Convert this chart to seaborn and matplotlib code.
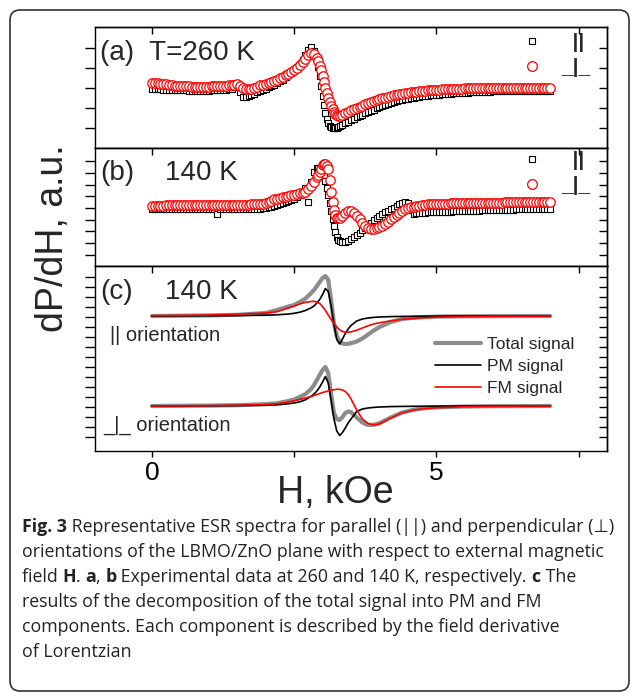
import numpy as np
import matplotlib.pyplot as plt
import seaborn as sns
from matplotlib.lines import Line2D
from matplotlib.patches import FancyBboxPatch
from matplotlib.transforms import IdentityTransform

# ── Data (arbitrary units) ───────────────────────────────────────────────────
# field values of the measured spectra, kOe
H_EXP = [0.0, 0.05, 0.1, 0.15, 0.2, 0.25, 0.3, 0.35, 0.4, 0.45, 0.5, 0.55, 0.6, 0.65, 0.7,
         0.75, 0.8, 0.85, 0.9, 0.95, 1.0, 1.05, 1.1, 1.15, 1.2, 1.25, 1.3, 1.35, 1.4, 1.45,
         1.5, 1.55, 1.6, 1.65, 1.7, 1.75, 1.8, 1.85, 1.9, 1.95, 2.0, 2.05, 2.1, 2.15, 2.2,
         2.25, 2.3, 2.35, 2.4, 2.45, 2.5, 2.55, 2.6, 2.65, 2.7, 2.75, 2.8, 2.85,
         2.9, 2.925, 2.95, 2.975, 3.0, 3.025, 3.05, 3.075, 3.1, 3.125, 3.15, 3.175,
         3.2, 3.225, 3.25, 3.275, 3.3,
         3.35, 3.4, 3.45, 3.5, 3.55, 3.6, 3.65, 3.7, 3.75, 3.8, 3.85, 3.9, 3.95, 4.0,
         4.05, 4.1, 4.15, 4.2, 4.25, 4.3, 4.35, 4.4, 4.45, 4.5, 4.55, 4.6, 4.65, 4.7,
         4.75, 4.8, 4.85, 4.9, 4.95, 5.0, 5.05, 5.1, 5.15, 5.2, 5.25, 5.3, 5.35, 5.4,
         5.45, 5.5, 5.55, 5.6, 5.65, 5.7, 5.75, 5.8, 5.85, 5.9, 5.95, 6.0, 6.05, 6.1,
         6.15, 6.2, 6.25, 6.3, 6.35, 6.4, 6.45, 6.5, 6.55, 6.6, 6.65, 6.7, 6.75, 6.8,
         6.85, 6.9, 6.95, 7.0]

# (a) T = 260 K, parallel (squares) and perpendicular (circles)
A_PAR = [-0.05, -0.08, -0.10, -0.13, -0.15, -0.17, -0.18, -0.19, -0.20, -0.21, -0.22, -0.23, -0.24, -0.25, -0.25,
         -0.26, -0.26, -0.26, -0.26, -0.26, -0.25, -0.24, -0.23, -0.22, -0.20, -0.18, -0.15, -0.12, -0.10, 0.10,
         0.30, -0.40, -0.90, -0.85, -0.75, -0.65, -0.55, -0.42, -0.30, -0.18, -0.05, 0.08, 0.20, 0.35, 0.50,
         0.67, 0.85, 1.05, 1.25, 1.50, 1.75, 2.05, 2.40, 2.80, 3.30, 3.80, 4.10, 3.70,
         2.80, 2.10, 1.20, 0.20, -0.80, -1.70, -2.50, -3.10, -3.50, -3.75, -3.90, -3.97,
         -4.00, -3.98, -3.95, -3.88, -3.80,
         -3.65, -3.50, -3.35, -3.20, -3.05, -2.90, -2.78, -2.65, -2.52, -2.40, -2.27, -2.15, -2.02, -1.90,
         -1.77, -1.65, -1.55, -1.45, -1.37, -1.30, -1.22, -1.15, -1.10, -1.05, -1.00, -0.95, -0.91, -0.87,
         -0.83, -0.80, -0.77, -0.74, -0.71, -0.68, -0.65, -0.63, -0.60, -0.58, -0.56, -0.54, -0.52, -0.50,
         -0.48, -0.47, -0.45, -0.44, -0.42, -0.41, -0.39, -0.38, -0.37, -0.36, -0.35, -0.34, -0.33, -0.32,
         -0.31, -0.31, -0.30, -0.30, -0.29, -0.29, -0.28, -0.28, -0.28, -0.28, -0.27, -0.27, -0.27, -0.27,
         -0.27, -0.27, -0.27, -0.27]
A_PERP = [0.55, 0.52, 0.48, 0.44, 0.40, 0.36, 0.32, 0.28, 0.25, 0.22, 0.20, 0.18, 0.17, 0.16, 0.15,
          0.14, 0.14, 0.14, 0.14, 0.14, 0.15, 0.16, 0.17, 0.18, 0.20, 0.22, 0.25, 0.27, 0.30, 0.34,
          0.37, 0.20, 0.00, -0.05, -0.10, -0.06, 0.00, 0.12, 0.30, 0.35, 0.40, 0.50, 0.60, 0.72, 0.85,
          0.97, 1.10, 1.25, 1.40, 1.55, 1.75, 2.00, 2.25, 2.55, 2.90, 3.30, 3.50, 3.40,
          3.00, 2.65, 2.20, 1.75, 1.20, 0.60, 0.00, -0.50, -1.00, -1.40, -1.80, -2.10,
          -2.40, -2.55, -2.70, -2.75, -2.75,
          -2.65, -2.50, -2.35, -2.20, -2.05, -1.95, -1.85, -1.75, -1.62, -1.50, -1.40, -1.30, -1.20, -1.10,
          -1.02, -0.95, -0.87, -0.80, -0.73, -0.67, -0.61, -0.56, -0.51, -0.47, -0.43, -0.40, -0.36, -0.33,
          -0.30, -0.27, -0.24, -0.22, -0.20, -0.18, -0.16, -0.14, -0.12, -0.11, -0.09, -0.08, -0.07, -0.06,
          -0.05, -0.04, -0.03, -0.02, -0.02, -0.01, -0.01, 0.00, 0.00, 0.01, 0.01, 0.02, 0.02, 0.03,
          0.03, 0.04, 0.04, 0.04, 0.05, 0.05, 0.05, 0.05, 0.05, 0.05, 0.04, 0.04, 0.04, 0.04,
          0.03, 0.03, 0.03, 0.03]

# (b) T = 140 K
B_PAR = [-0.05, -0.07, -0.08, -0.09, -0.09, -0.10, -0.10, -0.10, -0.10, -0.11, -0.11, -0.11, -0.11, -0.12, -0.12,
         -0.12, -0.12, -0.12, -0.12, -0.12, -0.12, -0.12, -0.12, -0.55, -0.12, -0.11, -0.11, -0.10, -0.10, -0.10,
         -0.10, -0.09, -0.09, -0.08, -0.08, -0.07, -0.07, -0.06, -0.05, -0.03, 0.00, 0.07, 0.15, 0.25, 0.35,
         0.45, 0.55, 0.65, 0.75, 0.85, 0.95, 1.10, 1.30, 1.60, 2.00, 0.60, 2.60, 3.60,
         4.00, 4.00, 3.90, 3.80, 3.60, 3.20, 2.70, 2.00, 1.30, 0.50, -0.30, -1.10,
         -1.80, -2.40, -2.90, -3.15, -3.30,
         -3.40, -3.40, -3.30, -3.10, -2.90, -2.70, -2.45, -2.20, -1.95, -1.70, -1.45, -1.20, -0.97, -0.75,
         -0.57, -0.40, -0.25, -0.10, 0.05, 0.20, 0.38, 0.55, 0.62, 0.50, -0.20, -0.55, -0.52, -0.50,
         -0.47, -0.45, -0.43, -0.42, -0.41, -0.40, -0.39, -0.38, -0.37, -0.36, -0.35, -0.34, -0.33, -0.32,
         -0.31, -0.30, -0.29, -0.28, -0.27, -0.26, -0.25, -0.24, -0.23, -0.22, -0.21, -0.20, -0.19, -0.18,
         -0.18, -0.17, -0.16, -0.15, -0.15, -0.14, -0.13, -0.12, -0.12, -0.11, -0.10, -0.09, -0.09, -0.08,
         -0.07, -0.06, -0.06, -0.05]
B_PERP = [0.25, 0.25, 0.25, 0.25, 0.25, 0.26, 0.26, 0.26, 0.26, 0.27, 0.27, 0.27, 0.27, 0.28, 0.28,
          0.28, 0.28, 0.29, 0.29, 0.29, 0.29, 0.30, 0.30, 0.30, 0.30, 0.31, 0.31, 0.32, 0.32, 0.33,
          0.33, 0.34, 0.34, 0.35, 0.35, 0.36, 0.37, 0.38, 0.40, 0.44, 0.50, 0.62, 0.75, 0.86, 0.95,
          1.03, 1.10, 1.15, 1.20, 1.27, 1.33, 1.40, 1.48, 1.55, 1.65, 1.90, 2.20, 2.60,
          3.10, 3.35, 3.60, 3.95, 4.30, 4.45, 4.40, 4.20, 3.90, 2.80, 1.60, 0.60,
          -0.20, -0.70, -1.00, -1.02, -0.95,
          -0.75, -0.45, -0.25, -0.30, -0.50, -0.80, -1.12, -1.45, -1.75, -2.00, -2.05, -2.05, -2.00, -1.90,
          -1.77, -1.60, -1.37, -1.10, -0.87, -0.65, -0.45, -0.25, -0.12, 0.00, 0.08, 0.15, 0.20, 0.25,
          0.29, 0.33, 0.36, 0.38, 0.40, 0.42, 0.43, 0.44, 0.45, 0.45, 0.46, 0.47, 0.47, 0.48,
          0.48, 0.49, 0.49, 0.50, 0.50, 0.51, 0.51, 0.52, 0.52, 0.53, 0.53, 0.54, 0.54, 0.55,
          0.55, 0.56, 0.56, 0.56, 0.57, 0.57, 0.57, 0.57, 0.58, 0.58, 0.58, 0.59, 0.59, 0.60,
          0.60, 0.61, 0.61, 0.62]

# (c) Lorentzian-derivative decomposition at 140 K
H_FIT = [0.0, 0.5, 1.0, 1.5, 2.0, 2.2, 2.4, 2.5, 2.6, 2.7, 2.8, 2.85, 2.9, 2.95, 3.0,
         3.05, 3.1, 3.15, 3.2, 3.25, 3.3, 3.35, 3.4, 3.45, 3.5, 3.6, 3.7, 3.8, 3.9, 4.0,
         4.2, 4.4, 4.6, 4.8, 5.0, 5.5, 6.0, 6.5, 7.0]
PAR_TOTAL = [0.0, 0.03, 0.06, 0.12, 0.30, 0.60, 0.95, 1.10, 1.40, 1.75, 2.30, 2.60, 3.00, 3.40, 3.80,
             4.00, 3.60, 1.60, -0.70, -2.00, -2.55, -2.75, -2.80, -2.78, -2.72, -2.55, -2.25, -1.85, -1.45, -1.10,
             -0.60, -0.30, -0.17, -0.10, -0.06, -0.03, -0.02, -0.01, 0.0]
PAR_PM = [0.0, 0.01, 0.02, 0.04, 0.08, 0.12, 0.20, 0.27, 0.38, 0.55, 0.82, 1.00, 1.30, 1.65, 2.15,
          2.75, 2.45, 1.00, -0.80, -2.35, -2.80, -2.30, -1.75, -1.30, -0.95, -0.50, -0.30, -0.20, -0.14, -0.10,
          -0.06, -0.04, -0.03, -0.02, -0.01, 0.0, 0.0, 0.0, 0.0]
PAR_FM = [0.03, 0.06, 0.10, 0.17, 0.30, 0.43, 0.80, 1.00, 1.20, 1.37, 1.45, 1.47, 1.40, 1.25, 0.95,
          0.55, 0.10, -0.35, -0.75, -1.10, -1.38, -1.55, -1.62, -1.63, -1.58, -1.42, -1.20, -0.98, -0.80, -0.67,
          -0.48, -0.33, -0.24, -0.17, -0.12, -0.06, -0.03, -0.01, 0.0]
PERP_TOTAL = [0.0, 0.02, 0.04, 0.08, 0.18, 0.27, 0.50, 0.65, 0.90, 1.20, 1.70, 2.10, 2.60, 3.10, 3.60,
              3.90, 3.30, 1.20, -0.70, -1.30, -1.40, -1.10, -0.70, -0.55, -0.62, -1.15, -1.65, -1.90, -1.88, -1.72,
              -1.15, -0.65, -0.38, -0.22, -0.14, -0.05, -0.02, -0.01, 0.0]
PERP_PM = [0.0, 0.01, 0.02, 0.04, 0.08, 0.12, 0.22, 0.30, 0.42, 0.62, 0.98, 1.20, 1.50, 1.90, 2.40,
           2.95, 2.30, 0.60, -1.30, -2.50, -2.95, -2.65, -2.20, -1.70, -1.30, -0.55, -0.30, -0.20, -0.14, -0.10,
           -0.06, -0.04, -0.03, -0.02, -0.01, 0.0, 0.0, 0.0, 0.0]
PERP_FM = [0.0, 0.02, 0.04, 0.08, 0.15, 0.22, 0.40, 0.52, 0.65, 0.80, 0.95, 1.05, 1.15, 1.25, 1.35,
           1.43, 1.50, 1.57, 1.63, 1.67, 1.67, 1.60, 1.45, 1.15, 0.70, -0.40, -1.30, -1.75, -1.90, -1.80,
           -1.20, -0.68, -0.40, -0.25, -0.17, -0.07, -0.03, -0.01, 0.0]
PAR_OFFSET = 9.0  # vertical shift of the parallel-orientation curves in (c)

CAPTION = [
    [("Fig. 3", True), (" Representative ESR spectra for parallel (||) and perpendicular (\u22a5)", False)],
    [("orientations of the LBMO/ZnO plane with respect to external magnetic", False)],
    [("field ", False), ("H", True), (". ", False), ("a", True), (", ", False), ("b", True),
     (" Experimental data at 260 and 140 K, respectively. ", False), ("c", True), (" The", False)],
    [("results of the decomposition of the total signal into PM and FM", False)],
    [("components. Each component is described by the field derivative", False)],
    [("of Lorentzian", False)],
]

# ── Style ────────────────────────────────────────────────────────────────────
sns.set_theme(style="white")
plt.rcParams["font.family"] = ["Liberation Sans", "DejaVu Sans"]
plt.rcParams.update({"axes.edgecolor": "black", "xtick.color": "black", "ytick.color": "black",
                     "axes.linewidth": 1.0})

W, H = 630, 693
fig = plt.figure(figsize=(W / 100, H / 100), dpi=100)


def px_axes(left, top, right, bottom):
    return fig.add_axes([left / W, 1 - bottom / H, (right - left) / W, (bottom - top) / H])


def style_panel(ax, ylim, yticks, bottom_labels=False):
    ax.set_xlim(-1, 8)
    ax.set_ylim(*ylim)
    ax.set_xlabel("")
    ax.set_ylabel("")
    ax.set_xticks([0, 2.5, 5, 7.5])
    ax.set_yticks(yticks)
    ax.tick_params(axis="y", direction="out", length=7, width=1, left=True, right=False, labelleft=False)
    sec_y = ax.secondary_yaxis("right")
    sec_y.set_yticks(yticks)
    sec_y.tick_params(direction="in", length=6, width=1, labelright=False)
    if bottom_labels:
        ax.tick_params(axis="x", direction="out", length=4, width=1, bottom=True, top=False,
                       labelbottom=True, labelsize=19, pad=3)
        ax.set_xticklabels(["0", "", "5", ""])
    else:
        ax.tick_params(axis="x", bottom=False, top=False, labelbottom=False)
    sec_x = ax.secondary_xaxis("top")
    sec_x.set_xticks([0, 2.5, 5, 7.5])
    sec_x.tick_params(direction="in", length=5, width=1, labeltop=False)


def exp_panel(ax, par, perp, leg_y):
    sns.scatterplot(x=H_EXP, y=par, ax=ax, marker="s", s=24, facecolor="white",
                    edgecolor="black", linewidth=0.8, zorder=2)
    sns.scatterplot(x=H_EXP, y=perp, ax=ax, marker="o", s=46, facecolor="white",
                    edgecolor="red", linewidth=0.9, zorder=3)
    handles = [Line2D([], [], ls="none", marker="s", ms=5, mfc="white", mec="black", mew=0.8),
               Line2D([], [], ls="none", marker="o", ms=7, mfc="white", mec="red", mew=0.9)]
    ax.legend(handles, ["  ||", "_|_"], loc="upper left", bbox_to_anchor=(0.833, leg_y),
              frameon=False, prop={"size": 15, "weight": "bold"}, handlelength=1.0,
              handletextpad=0.9, labelspacing=0.3, borderpad=0, borderaxespad=0)


ax_a = px_axes(95, 27, 607, 148)
ax_b = px_axes(95, 148, 607, 266)
ax_c = px_axes(95, 266, 607, 451)

# (a)
exp_panel(ax_a, A_PAR, A_PERP, 0.95)
style_panel(ax_a, (-6.0, 6.1), [-4, -2, 0, 2, 4])
ax_a.text(0.01, 0.785, "(a)  T=260 K", transform=ax_a.transAxes, fontsize=20, va="center")

# (b)
exp_panel(ax_b, B_PAR, B_PERP, 0.975)
style_panel(ax_b, (-5.8, 6.0), [k * 1.17 for k in range(-4, 5)])
ax_b.text(0.01, 0.788, "(b)", transform=ax_b.transAxes, fontsize=20, va="center")
ax_b.text(0.137, 0.788, "140 K", transform=ax_b.transAxes, fontsize=20, va="center")

# (c)
colors = ["#8c8c8c", "black", "red"]
widths = [3.0, 1.2, 1.2]
for ys, col, lw in zip([PAR_TOTAL, PAR_PM, PAR_FM], colors, widths):
    sns.lineplot(x=H_FIT, y=[v + PAR_OFFSET for v in ys], ax=ax_c, color=col, lw=lw,
                 sort=False, estimator=None)
for ys, col, lw in zip([PERP_TOTAL, PERP_PM, PERP_FM], colors, widths):
    sns.lineplot(x=H_FIT, y=ys, ax=ax_c, color=col, lw=lw, sort=False, estimator=None)
style_panel(ax_c, (-4.5, 14.0), list(np.arange(-3.1, 13.2, 1.0)), bottom_labels=True)
ax_c.text(0.01, 0.859, "(c)", transform=ax_c.transAxes, fontsize=20, va="center")
ax_c.text(0.137, 0.859, "140 K", transform=ax_c.transAxes, fontsize=20, va="center")
ax_c.text(0.029, 0.622, "|| orientation", transform=ax_c.transAxes, fontsize=14.5, va="center")
ax_c.text(0.016, 0.14, "_|_ orientation", transform=ax_c.transAxes, fontsize=14.5, va="center")
leg_handles = [Line2D([], [], color=c, lw=w) for c, w in zip(colors, widths)]
ax_c.legend(leg_handles, ["Total signal", "PM signal", "FM signal"], loc="upper left",
            bbox_to_anchor=(0.665, 0.617), frameon=False, fontsize=12.5, handlelength=2.6,
            handletextpad=0.35, labelspacing=0.4, borderpad=0, borderaxespad=0)

ax_c.set_xlabel("H, kOe", fontsize=27)
ax_c.xaxis.set_label_coords(0.469, -0.13)
fig.text(53 / W, 1 - 238 / H, "dP/dH, a.u.", rotation=90, fontsize=27, ha="center", va="center")

# ── Caption ──────────────────────────────────────────────────────────────────
renderer = fig.canvas.get_renderer()
cap_font = ["Open Sans", "DejaVu Sans"]
for i, line in enumerate(CAPTION):
    x = 22
    y = 527 + i * 25
    for txt, bold in line:
        t = fig.text(x / W, 1 - y / H, txt, fontsize=12.8, family=cap_font, color="#222222",
                     fontweight="bold" if bold else "normal", ha="left", va="center")
        x += t.get_window_extent(renderer).width

# rounded frame round the whole figure
fig.add_artist(FancyBboxPatch((10, 2), 619, 681, boxstyle="round,pad=0,rounding_size=10",
                              transform=IdentityTransform(), fill=False, ec="#333333", lw=1.2))

fig.savefig("out.png", dpi=100)
